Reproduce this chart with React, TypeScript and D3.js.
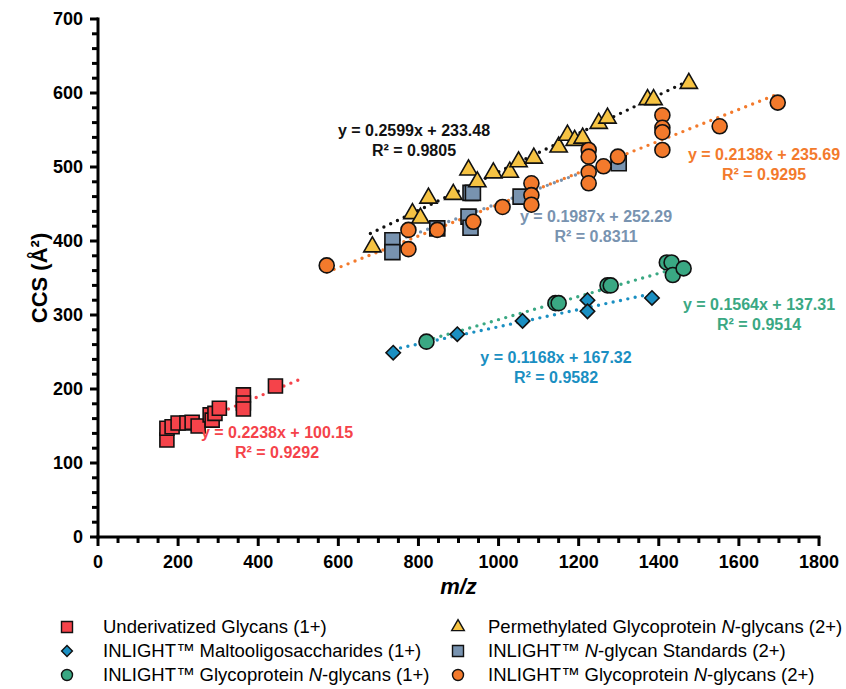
import React from 'react';
import * as d3 from 'd3';

// m/z, CCS pairs
const underivatized: [number, number][] = [
  [172, 131], [172, 147], [185, 149], [200, 154], [222, 154], [235, 155], [250, 150],
  [280, 165], [285, 158], [292, 167], [303, 174], [363, 192], [363, 181], [363, 173], [443, 204],
];
const maltooligo: [number, number][] = [
  [737, 249], [897, 274], [1060, 292], [1222, 320], [1222, 305], [1383, 323],
];
const glycoprotein1: [number, number][] = [
  [820, 264], [1142, 316], [1150, 316], [1272, 340], [1280, 340],
  [1420, 371], [1432, 371], [1435, 354], [1462, 363],
];
const nglycanStd: [number, number][] = [
  [735, 401], [735, 385], [847, 417], [925, 433], [930, 418], [930, 465], [936, 465],
  [1055, 460], [1300, 505],
];
const permethylated: [number, number][] = [
  [685, 392], [785, 437], [805, 431], [825, 458], [887, 463], [925, 496], [947, 480],
  [987, 492], [1028, 493], [1050, 507], [1088, 512], [1150, 527], [1172, 543], [1190, 536],
  [1210, 539], [1250, 559], [1272, 566], [1372, 591], [1387, 591], [1475, 613],
];
const glycoprotein2: [number, number][] = [
  [571, 367], [775, 415], [775, 389], [847, 415], [937, 426], [1010, 446],
  [1082, 478], [1082, 462], [1082, 449], [1225, 523], [1225, 514], [1225, 493], [1225, 478],
  [1262, 501], [1298, 514], [1409, 570], [1409, 553], [1409, 547], [1409, 523],
  [1552, 555], [1697, 587],
];

// fits: slope, intercept, x range of the dotted line
const fitRed = { m: 0.2238, b: 100.15, x0: 170, x1: 510, eq: 'y = 0.2238x + 100.15', r2: 'R² = 0.9292' };
const fitBlue = { m: 0.1168, b: 167.32, x0: 737, x1: 1383, eq: 'y = 0.1168x + 167.32', r2: 'R² = 0.9582' };
const fitGreen = { m: 0.1564, b: 137.31, x0: 820, x1: 1462, eq: 'y = 0.1564x + 137.31', r2: 'R² = 0.9514' };
const fitSlate = { m: 0.1987, b: 252.29, x0: 735, x1: 1300, eq: 'y = 0.1987x + 252.29', r2: 'R² = 0.8311' };
const fitBlack = { m: 0.2599, b: 233.48, x0: 680, x1: 1480, eq: 'y = 0.2599x + 233.48', r2: 'R² = 0.9805' };
const fitOrange = { m: 0.2138, b: 235.69, x0: 572, x1: 1700, eq: 'y = 0.2138x + 235.69', r2: 'R² = 0.9295' };

const xTicks = [0, 200, 400, 600, 800, 1000, 1200, 1400, 1600, 1800];
const yTicks = [0, 100, 200, 300, 400, 500, 600, 700];

const C = {
  red: '#f5434a',
  blue: '#1a8fc2',
  green: '#3aa883',
  slate: '#7893b0',
  yellow: '#f6c343',
  orange: '#f37a2c',
};

const W = 846;
const H = 689;
const x = d3.scaleLinear().domain([0, 1800]).range([98, 819]);
const y = d3.scaleLinear().domain([0, 700]).range([537, 19]);

type Shape = 'square' | 'diamond' | 'circle' | 'triangle';

function marker(shape: Shape, s: number): string {
  const h = s / 2;
  if (shape === 'square') return `M${-h},${-h}H${h}V${h}H${-h}Z`;
  if (shape === 'diamond') { const d = h * 1.2; return `M0,${-d}L${d},0L0,${d}L${-d},0Z`; }
  if (shape === 'triangle') {
    const w = s * 1.15, th = w * 0.87;
    return `M0,${-th * 2 / 3}L${w / 2},${th / 3}L${-w / 2},${th / 3}Z`;
  }
  return d3.arc()({ innerRadius: 0, outerRadius: h, startAngle: 0, endAngle: 2 * Math.PI }) as string;
}

const series: { data: [number, number][]; shape: Shape; color: string; size: number }[] = [
  { data: underivatized, shape: 'square', color: C.red, size: 14 },
  { data: maltooligo, shape: 'diamond', color: C.blue, size: 12 },
  { data: glycoprotein1, shape: 'circle', color: C.green, size: 15 },
  { data: nglycanStd, shape: 'square', color: C.slate, size: 15 },
  { data: permethylated, shape: 'triangle', color: C.yellow, size: 15 },
  { data: glycoprotein2, shape: 'circle', color: C.orange, size: 15 },
];

const fits = [
  { f: fitRed, color: C.red, tx: 277, ty: 438, fs: 16 },
  { f: fitBlue, color: C.blue, tx: 556, ty: 363, fs: 16 },
  { f: fitGreen, color: C.green, tx: 759, ty: 310, fs: 16 },
  { f: fitSlate, color: C.slate, tx: 596, ty: 222, fs: 16 },
  { f: fitBlack, color: '#111', tx: 414, ty: 136, fs: 16 },
  { f: fitOrange, color: C.orange, tx: 764, ty: 160, fs: 16 },
];

const legend: { shape: Shape; color: string; col: number; row: number; label: React.ReactNode }[] = [
  { shape: 'square', color: C.red, col: 0, row: 0, label: 'Underivatized Glycans (1+)' },
  { shape: 'diamond', color: C.blue, col: 0, row: 1, label: 'INLIGHT™ Maltooligosaccharides (1+)' },
  { shape: 'circle', color: C.green, col: 0, row: 2, label: <>INLIGHT™ Glycoprotein <tspan fontStyle="italic">N</tspan>-glycans (1+)</> },
  { shape: 'triangle', color: C.yellow, col: 1, row: 0, label: <>Permethylated Glycoprotein <tspan fontStyle="italic">N</tspan>-glycans (2+)</> },
  { shape: 'square', color: C.slate, col: 1, row: 1, label: <>INLIGHT™ <tspan fontStyle="italic">N</tspan>-glycan Standards (2+)</> },
  { shape: 'circle', color: C.orange, col: 1, row: 2, label: <>INLIGHT™ Glycoprotein <tspan fontStyle="italic">N</tspan>-glycans (2+)</> },
];

export default function App() {
  const font = 'Arial, "Liberation Sans", Helvetica, sans-serif';
  const yMinor = d3.range(0, 701, 20);
  const xMinor = d3.range(0, 1801, 50);

  return (
    <svg width={W} height={H} style={{ position: 'absolute', left: 0, top: 0, background: '#fff' }} fontFamily={font}>
      {/* trend lines */}
      {fits.map(({ f, color }, i) => (
        <line key={i} x1={x(f.x0)} y1={y(f.m * f.x0 + f.b)} x2={x(f.x1)} y2={y(f.m * f.x1 + f.b)}
          stroke={color} strokeWidth={3.4} strokeLinecap="round" strokeDasharray="0 7.5" />
      ))}

      {/* points */}
      {series.map((s, i) => (
        <g key={i}>
          {s.data.map((d, j) => (
            <path key={j} d={marker(s.shape, s.size)} transform={`translate(${x(d[0])},${y(d[1])})`}
              fill={s.color} stroke="#111" strokeWidth={1.6} strokeLinejoin="miter" />
          ))}
        </g>
      ))}

      {/* equations */}
      {fits.map(({ f, color, tx, ty, fs }, i) => (
        <text key={i} fill={color} fontWeight="bold" fontSize={fs} textAnchor="middle">
          <tspan x={tx} y={ty}>{f.eq}</tspan>
          <tspan x={tx} y={ty + 20}>{f.r2}</tspan>
        </text>
      ))}

      {/* axes */}
      <g stroke="#000" strokeWidth={3}>
        <line x1={x(0)} x2={x(0)} y1={y(0) + 1.5} y2={y(700) - 1.5} />
        {yMinor.map(v => (
          <line key={v} x1={x(0)} x2={x(0) - (v % 100 === 0 ? 8 : 6)} y1={y(v)} y2={y(v)} />
        ))}
        <line x1={x(0) - 1.5} x2={x(1800) + 1.5} y1={y(0)} y2={y(0)} />
        {xMinor.map(v => (
          <line key={v} x1={x(v)} x2={x(v)} y1={y(0)} y2={y(0) + (v % 200 === 0 ? 9 : 6)} />
        ))}
      </g>
      {yTicks.map(v => (
        <text key={v} x={83} y={y(v)} dy="0.36em" textAnchor="end" fontWeight="bold" fontSize={18}>{v}</text>
      ))}
      {xTicks.map(v => (
        <text key={v} x={x(v)} y={568} textAnchor="middle" fontWeight="bold" fontSize={18}>{v}</text>
      ))}
      <text transform={`translate(47,${(y(0) + y(700)) / 2}) rotate(-90)`} textAnchor="middle" fontWeight="bold" fontSize={22}>
        CCS (Å²)
      </text>
      <text x={(x(0) + x(1800)) / 2} y={594} textAnchor="middle" fontWeight="bold" fontStyle="italic" fontSize={22}>m/z</text>

      {/* legend */}
      {legend.map((l, i) => {
        const mx = l.col === 0 ? 67 : 458;
        const tx = l.col === 0 ? 103 : 488;
        const ly = 627 + l.row * 24;
        return (
          <g key={i}>
            <path d={marker(l.shape, l.shape === 'diamond' ? 9 : 11)} transform={`translate(${mx},${ly})`}
              fill={l.color} stroke="#111" strokeWidth={1.4} />
            <text x={tx} y={ly} dy="0.35em" fontSize={18.5}>{l.label}</text>
          </g>
        );
      })}
    </svg>
  );
}
